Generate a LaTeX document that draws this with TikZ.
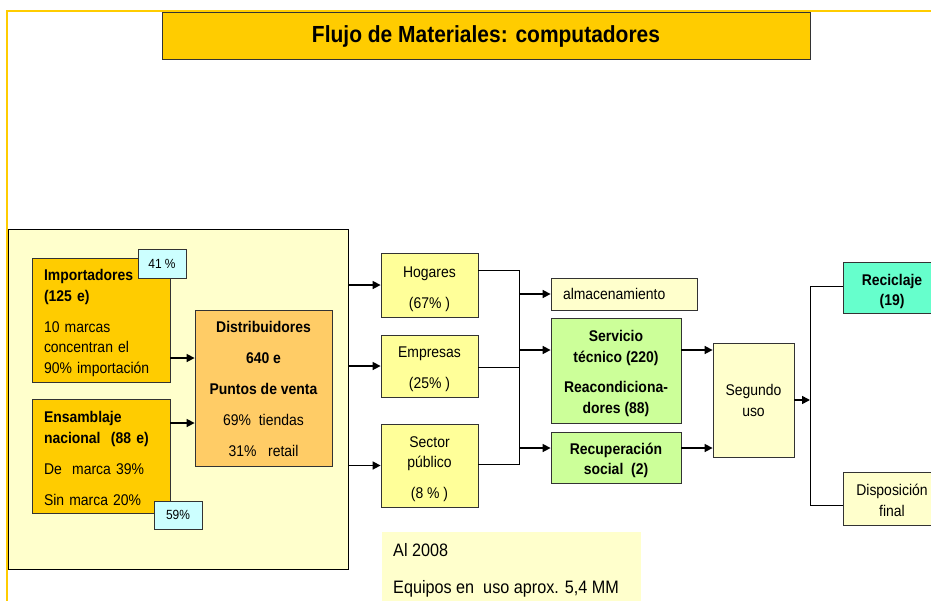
\documentclass[tikz,border=0pt]{standalone}
\usepackage{fontspec}
\setmainfont{Liberation Sans}[FakeStretch=0.9]
\usetikzlibrary{arrows.meta,calc}
\definecolor{gold}{HTML}{FFCC00}
\definecolor{paleyel}{HTML}{FFFFCC}
\definecolor{midyel}{HTML}{FFFF99}
\definecolor{orangey}{HTML}{FFCC66}
\definecolor{palegreen}{HTML}{CCFF99}
\definecolor{aqua}{HTML}{66FFCC}
\definecolor{palecyan}{HTML}{CCFFFF}
\definecolor{boxline}{HTML}{333333}
% #1 name, #2-#5 x1 y1 x2 y2, #6 box options, #7 text options, #8 text shift down, #9 text
\newcommand\mybox[9]{%
  \node[box,#6,minimum width={#4-#2},minimum height={#5-#3}] (#1) at ({(#2+#4)/2},{(#3+#5)/2}) {};
  \node[boxtext,#7] (#1-t) at ([yshift=-#8pt]#1.center) {#9};}
\begin{document}
\begin{tikzpicture}[x=1pt,y=-1pt,
  box/.style={draw=boxline, line width=0.8pt, inner sep=0pt},
  boxtext/.style={inner sep=0pt, font=\fontsize{15.5}{20.5}\selectfont, align=center},
  pct/.style={font=\fontsize{13.3}{15}\selectfont},
  arr/.style={line width=1.6pt, -{Triangle[length=8pt,width=8pt]}},
  bus/.style={line width=0.9pt, draw=black}]
\clip (0,0) rectangle (931,600);
\useasboundingbox (0,0) rectangle (931,600);
% frame lines
\draw[gold, line width=2pt] (7,601) -- (7,11) -- (932,11);
% title
\mybox{title}{162}{12}{810}{59}{fill=gold}{font=\bfseries\fontsize{23.3}{26}\selectfont}{1}{Flujo de Materiales: computadores}
% background panel
\node[box,draw=black,fill=paleyel,minimum width=340pt,minimum height=340pt] (bg) at (178,399) {};
% producers
\mybox{imp}{32}{258}{170}{382}{fill=gold}{align=left,text width=114pt}{3}{\textbf{Importadores}\\\textbf{(125 e)}\\[10.5pt]10 marcas\\concentran el\\90\% importación}
\mybox{pa}{138}{249}{186}{278}{fill=palecyan}{pct}{0}{41 \%}
\mybox{ens}{32}{399}{170}{513}{fill=gold}{align=left,text width=114pt}{2.5}{\textbf{Ensamblaje}\\\textbf{nacional\ \ (88 e)}\\[10.5pt]De\ \ marca 39\%\\[10.5pt]Sin marca 20\%}
\mybox{pb}{154}{501}{202}{529}{fill=palecyan}{pct}{0}{59\%}
\mybox{dist}{195}{310}{332}{466}{fill=orangey}{}{1}{\textbf{Distribuidores}\\[10.5pt]\textbf{640 e}\\[10.5pt]\textbf{Puntos de venta}\\[10.5pt]69\%\ \ tiendas\\[10.5pt]31\%\ \ \ retail}
\draw[arr] (imp.east |- 0,358) -- (dist.west |- 0,358);
\draw[arr] (ens.east |- 0,423) -- (dist.west |- 0,423);
% users
\mybox{hog}{381}{253}{478}{317}{fill=midyel}{}{4}{Hogares\\[10.5pt](67\% )}
\mybox{emp}{381}{335}{478}{397}{fill=midyel}{}{3.5}{Empresas\\[10.5pt](25\% )}
\mybox{sec}{381}{424}{478}{507}{fill=midyel}{}{3.5}{Sector\\público\\[10.5pt](8 \% )}
\draw[arr] (bg.east |- hog.west) -- (hog.west);
\draw[arr] (bg.east |- emp.west) -- (emp.west);
\draw[arr] (bg.east |- sec.west) -- (sec.west);
% first bus
\coordinate (b1t) at (519,270);
\coordinate (b1b) at (519,464);
\draw[bus] (hog.east |- b1t) -- (b1t) -- (b1b) -- (sec.east |- b1b);
\draw[bus] (emp.east |- 0,367) -- (b1t |- 0,367);
% destinations
\mybox{alm}{551}{278}{697}{310}{fill=paleyel}{align=left,text width=122pt}{0}{almacenamiento}
\mybox{serv}{551}{318}{681}{423}{fill=palegreen}{}{3}{\textbf{Servicio}\\\textbf{técnico (220)}\\[10pt]\textbf{Reacondiciona-}\\\textbf{dores (88)}}
\mybox{rec}{551}{432}{681}{483}{fill=palegreen}{}{3}{\textbf{Recuperación}\\\textbf{social\ \ (2)}}
\draw[arr] (b1t |- alm.west) -- (alm.west);
\draw[arr] (b1t |- 0,350) -- (serv.west |- 0,350);
\draw[arr] (b1t |- 0,448) -- (rec.west |- 0,448);
% second use
\mybox{seg}{713}{343}{794}{457}{fill=paleyel}{}{0.5}{Segundo\\uso}
\draw[arr] (serv.east |- 0,350) -- (seg.west |- 0,350);
\draw[arr] (rec.east |- 0,448) -- (seg.west |- 0,448);
% end of life
\mybox{recl}{843}{262}{941}{313}{fill=aqua}{}{4}{\textbf{Reciclaje}\\\textbf{(19)}}
\mybox{disp}{843}{472}{941}{525}{fill=paleyel}{}{2}{Disposición\\final}
\coordinate (b2t) at (810,286);
\coordinate (b2b) at (810,505);
\draw[bus] (recl.west |- b2t) -- (b2t) -- (b2b) -- (disp.west |- b2b);
\draw[arr] (seg.east |- 0,400) -- (b2t |- 0,400);
% note
\node[fill=paleyel, minimum width=259pt, minimum height=80pt, anchor=north west, inner sep=0pt] (note) at (382,532) {};
\node[anchor=north west, inner sep=0pt, align=left, font=\fontsize{18}{37}\selectfont] (notetxt) at ([xshift=11pt,yshift=-11pt]note.north west) {Al 2008\\Equipos en\ \ uso aprox. 5,4 MM};
\end{tikzpicture}
\end{document}
